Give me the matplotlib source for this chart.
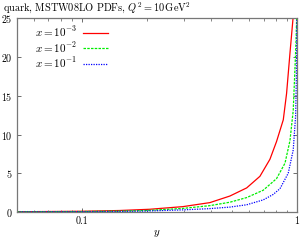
import numpy as np
import matplotlib
matplotlib.use("Agg")
import matplotlib.pyplot as plt
from matplotlib.ticker import FixedLocator, NullFormatter

plt.rcParams['font.family'] = 'cmr10'
plt.rcParams['mathtext.fontset'] = 'cm'
plt.rcParams['axes.formatter.use_mathtext'] = True

# values
red_x = [0.05, 0.1, 0.15, 0.207, 0.295, 0.394, 0.488, 0.584, 0.673, 0.749, 0.804, 0.864, 0.895, 0.928, 0.961, 0.975]
red_y = [0.02, 0.08, 0.18, 0.34, 0.68, 1.2, 2.05, 3.1, 4.6, 6.8, 9.1, 11.9, 15.3, 20.5, 25.3, 30]

green_x = [0.05, 0.1, 0.15, 0.2, 0.295, 0.392, 0.488, 0.584, 0.697, 0.804, 0.88, 0.928, 0.961, 0.979, 0.99, 0.997]
green_y = [0.01, 0.05, 0.1, 0.18, 0.45, 0.8, 1.25, 1.85, 2.8, 4.3, 6.3, 9.2, 13.1, 18.5, 22, 25]

blue_x = [0.05, 0.1, 0.15, 0.2, 0.295, 0.392, 0.488, 0.584, 0.697, 0.775, 0.834, 0.911, 0.961, 0.986, 0.995, 0.999]
blue_y = [0.005, 0.03, 0.06, 0.11, 0.26, 0.42, 0.62, 0.92, 1.55, 2.25, 3.0, 5.0, 8.0, 12.4, 18, 25]

labels = [r'$x = 10^{-3}$', r'$x = 10^{-2}$', r'$x = 10^{-1}$']

fig = plt.figure(figsize=(3.03, 2.43), dpi=100)
ax = fig.add_axes([0.056, 0.128, 0.924, 0.796])

ax.plot(red_x, red_y, color='#ff0000', lw=0.9, label=labels[0])
ax.plot(green_x, green_y, color='#00ee00', lw=0.9, ls=(0, (2, 1)), label=labels[1])
ax.plot(blue_x, blue_y, color='#0000ff', lw=0.9, ls=(0, (1, 1)), label=labels[2])

ax.set_xscale('log')
ax.set_xlim(0.05, 1)
ax.set_ylim(0, 25)
ax.xaxis.set_major_locator(FixedLocator([0.1, 1]))
ax.set_xticklabels(['0.1', '1'])
ax.xaxis.set_minor_formatter(NullFormatter())
ax.set_yticks([0, 5, 10, 15, 20, 25])

ax.tick_params(which='both', direction='in', top=True, right=True, labelsize=7.2, pad=3, color='#555555')
ax.tick_params(which='major', length=3, width=0.6)
ax.tick_params(which='minor', length=1.8, width=0.5)
for s in ax.spines.values():
    s.set_color('#777777')
    s.set_linewidth(0.9)

ax.set_xlabel(r'$y$', fontsize=8, labelpad=2)
fig.text(0.01, 1.0, r'quark, MSTW08LO PDFs, $Q^2 = 10\,\mathrm{GeV}^2$', fontsize=7.4, va='top', ha='left')

ax.legend(loc='upper left', bbox_to_anchor=(0.036, 1.01), frameon=False, markerfirst=False, fontsize=8,
          handlelength=2.3, handletextpad=0.5, labelspacing=0.1, borderaxespad=0.3)

fig.savefig('out.png', dpi=100)
